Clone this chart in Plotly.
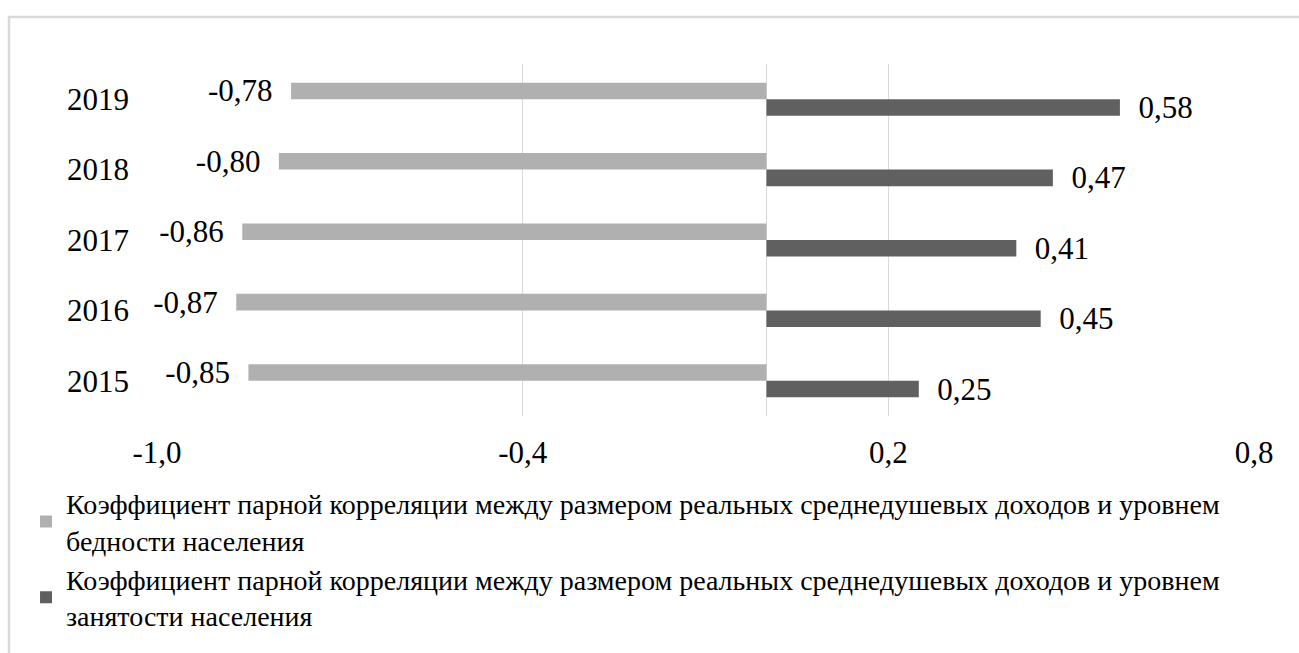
import plotly.graph_objects as go

years = ["2015", "2016", "2017", "2018", "2019"]
poverty_corr = [-0.85, -0.87, -0.86, -0.80, -0.78]
employment_corr = [0.25, 0.45, 0.41, 0.47, 0.58]
name_poverty = ("Коэффициент парной корреляции между размером реальных среднедушевых доходов и уровнем"
                "<br>бедности населения")
name_employment = ("Коэффициент парной корреляции между размером реальных среднедушевых доходов и уровнем"
                   "<br>занятости населения")
tick_vals = [-1.0, -0.4, 0.2, 0.8]
tick_text = [f"{v:.1f}".replace(".", ",") for v in tick_vals]

FONT = "Liberation Serif"
NB = "\u00a0"

fig = go.Figure()
# dark series first so that it sits below the gray one within each group
fig.add_trace(go.Bar(
    y=years, x=employment_corr, orientation="h", name=name_employment,
    marker=dict(color="#606060", line=dict(width=0)),
    texttemplate=NB * 2 + "%{x:.2f}", textposition="outside", constraintext="none",
    textfont=dict(family=FONT, size=31, color="#000000"), cliponaxis=False,
    legendrank=2, hoverinfo="skip",
))
fig.add_trace(go.Bar(
    y=years, x=poverty_corr, orientation="h", name=name_poverty,
    marker=dict(color="#b0b0b0", line=dict(width=0)),
    texttemplate="%{x:.2f}" + NB * 2, textposition="outside", constraintext="none",
    textfont=dict(family=FONT, size=31, color="#000000"), cliponaxis=False,
    legendrank=1, hoverinfo="skip",
))

fig.update_layout(
    width=1299, height=653,
    margin=dict(l=157, r=45, t=64, b=214),
    paper_bgcolor="white", plot_bgcolor="white",
    barmode="group", bargap=0.53, bargroupgap=0,
    separators=",.",
    font=dict(family=FONT, color="#000000"),
    showlegend=True,
    legend=dict(
        orientation="v", x=-0.1194, xanchor="left", y=-0.178, yanchor="top",
        font=dict(family=FONT, size=28, color="#000000"),
        bgcolor="rgba(0,0,0,0)", itemclick=False, itemdoubleclick=False,
        tracegroupgap=0,
    ),
    xaxis=dict(
        range=[-1.0, 0.8], tickvals=tick_vals, ticktext=tick_text,
        showgrid=True, gridcolor="#d9d9d9", gridwidth=1,
        zeroline=True, zerolinecolor="#d9d9d9", zerolinewidth=1,
        showline=False, ticks="", ticklabelstandoff=15,
        tickfont=dict(family=FONT, size=31, color="#000000"),
        fixedrange=True,
    ),
    yaxis=dict(
        type="category", categoryorder="array", categoryarray=years,
        showgrid=False, zeroline=False, showline=False, ticks="",
        ticklabelstandoff=27,
        tickfont=dict(family=FONT, size=31, color="#000000"),
        fixedrange=True,
    ),
    shapes=[dict(
        type="rect", xref="paper", yref="paper",
        x0=-0.1349, x1=1.2, y0=-0.8, y1=1.1333,
        line=dict(color="#d9d9d9", width=2.5), fillcolor="rgba(0,0,0,0)", layer="below",
    )],
)

fig.write_html("out.html", config={"displayModeBar": False},
               post_script="document.body.style.margin='0';")
